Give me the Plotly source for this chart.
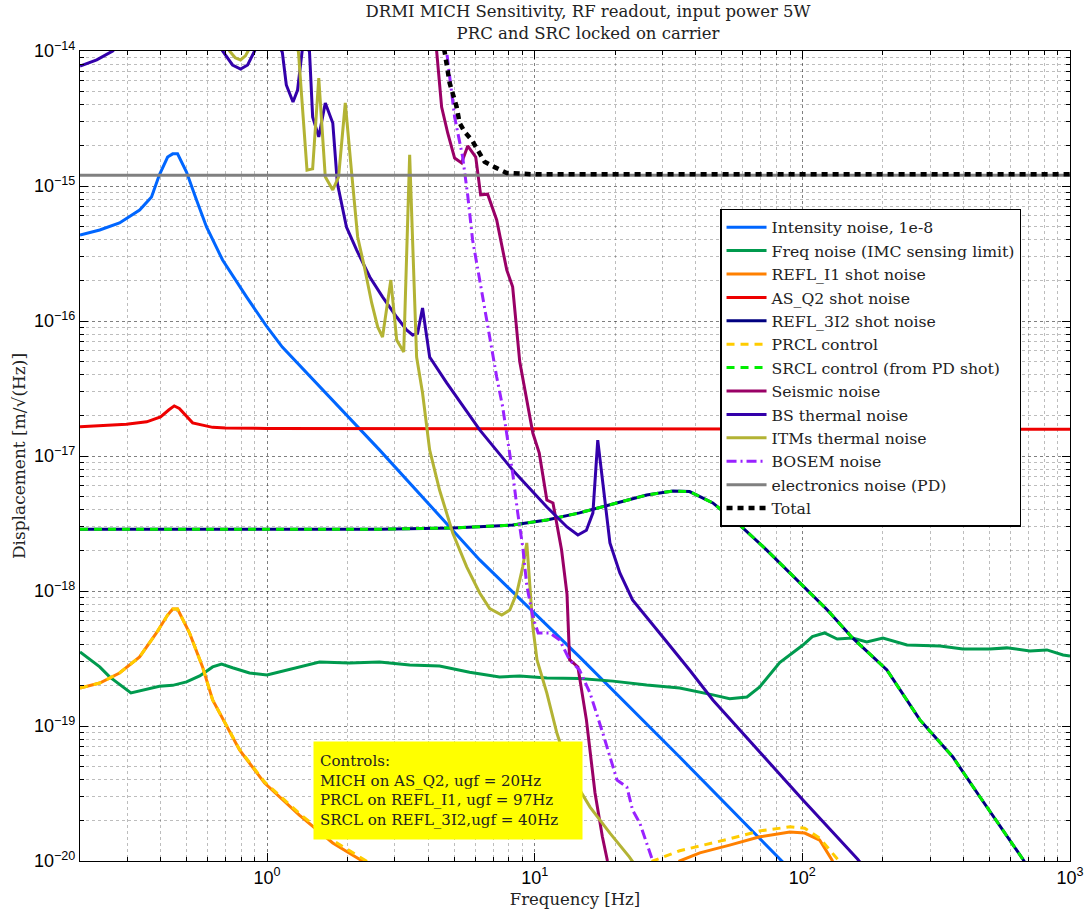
import plotly.graph_objects as go

# ---------------- data ----------------
f_intensity = [0.2, 0.237, 0.281, 0.334, 0.370, 0.396, 0.425, 0.444, 0.463, 0.50, 0.545, 0.594,
               0.682, 0.838, 1.0, 1.14, 2.63, 6.23, 14.7, 34.8, 83.8, 90]
intensity_noise = [4.33e-16, 4.72e-16, 5.32e-16, 6.64e-16, 8.3e-16, 1.21e-15, 1.64e-15, 1.73e-15, 1.73e-15,
                   1.27e-15, 7.88e-16, 4.97e-16, 2.83e-16, 1.51e-16, 9.03e-17, 6.41e-17, 1.11e-17, 1.7e-18,
                   3.25e-19, 5.89e-20, 1.0e-20, 8.6e-21]

f_freq = [0.2, 0.237, 0.258, 0.31, 0.396, 0.444, 0.50, 0.56, 0.626, 0.676, 0.743, 0.86, 1.0, 1.14, 1.32,
          1.57, 2.03, 2.63, 3.41, 4.41, 5.71, 6.23, 7.39, 8.79, 11.1, 14.7, 19.6, 26.2, 34.8, 46.3, 53.5,
          62.1, 69.3, 82.3, 92.1, 100.5, 109, 121, 135, 154, 174, 200, 246, 327, 398, 502, 581, 708, 820,
          942, 1000]
freq_noise = [3.54e-19, 2.74e-19, 2.31e-19, 1.76e-19, 1.97e-19, 2.0e-19, 2.12e-19, 2.35e-19, 2.74e-19,
              2.88e-19, 2.7e-19, 2.47e-19, 2.39e-19, 2.55e-19, 2.74e-19, 2.98e-19, 2.93e-19, 2.98e-19,
              2.83e-19, 2.78e-19, 2.5e-19, 2.43e-19, 2.31e-19, 2.35e-19, 2.27e-19, 2.25e-19, 2.15e-19,
              2.01e-19, 1.91e-19, 1.70e-19, 1.59e-19, 1.64e-19, 1.95e-19, 2.95e-19, 3.5e-19, 3.98e-19,
              4.6e-19, 4.89e-19, 4.41e-19, 4.49e-19, 4.2e-19, 4.49e-19, 3.98e-19, 3.92e-19, 3.72e-19,
              3.72e-19, 3.79e-19, 3.6e-19, 3.66e-19, 3.36e-19, 3.3e-19]

f_refl_i1 = [0.2, 0.237, 0.281, 0.334, 0.386, 0.425, 0.444, 0.463, 0.513, 0.574, 0.626, 0.789, 0.979,
             1.32, 1.76, 2.27, 2.4, 33.0, 34.8, 41.4, 53.5, 69.3, 89.8, 102, 116, 129, 135]
refl_i1_shot = [1.91e-19, 2.08e-19, 2.47e-19, 3.25e-19, 4.89e-19, 6.64e-19, 7.36e-19, 7.36e-19, 4.89e-19,
                2.74e-19, 1.56e-19, 6.64e-20, 3.78e-20, 2.19e-20, 1.36e-20, 1.0e-20, 8e-21, 8e-21, 1.0e-20,
                1.15e-20, 1.31e-20, 1.51e-20, 1.64e-20, 1.61e-20, 1.43e-20, 1.02e-20, 8e-21]

f_as_q2 = [0.2, 0.298, 0.355, 0.40, 0.43, 0.45, 0.47, 0.50, 0.527, 0.626, 0.7, 1.0, 10.0, 100.0, 1000.0]
as_q2_shot = [1.65e-17, 1.72e-17, 1.79e-17, 1.95e-17, 2.2e-17, 2.35e-17, 2.25e-17, 1.95e-17, 1.76e-17,
              1.63e-17, 1.61e-17, 1.6e-17, 1.6e-17, 1.6e-17, 1.58e-17]

f_refl_3i2 = [0.2, 1.0, 2.63, 4.94, 8.27, 11.1, 14.7, 19.6, 26.2, 32.8, 37.9, 46.3, 58.4, 73.6, 97.9,
              124, 154, 207, 275, 365, 461, 667, 720]
refl_3i2_shot = [2.87e-18, 2.87e-18, 2.87e-18, 2.93e-18, 3.08e-18, 3.36e-18, 3.79e-18, 4.41e-18, 5.14e-18,
                 5.5e-18, 5.45e-18, 4.49e-18, 3.08e-18, 2.01e-18, 1.15e-18, 7.23e-19, 4.49e-19, 2.6e-19,
                 1.11e-19, 5.89e-20, 2.98e-20, 1.03e-20, 8e-21]

f_prcl = [0.2, 0.237, 0.281, 0.334, 0.386, 0.425, 0.444, 0.463, 0.513, 0.574, 0.626, 0.789, 0.979,
          1.32, 1.76, 2.35, 2.5, 26.0, 27.6, 34.8, 53.5, 69.3, 89.8, 102, 116, 136, 142]
prcl_control = [1.91e-19, 2.08e-19, 2.47e-19, 3.25e-19, 4.89e-19, 6.64e-19, 7.36e-19, 7.36e-19, 4.89e-19,
                2.74e-19, 1.56e-19, 6.7e-20, 3.85e-20, 2.25e-20, 1.42e-20, 1.0e-20, 8e-21, 8e-21, 1.0e-20,
                1.19e-20, 1.46e-20, 1.67e-20, 1.79e-20, 1.75e-20, 1.48e-20, 1.02e-20, 8e-21]

f_srcl = f_refl_3i2
srcl_control = refl_3i2_shot

f_seismic = [4.25, 4.30, 4.49, 4.73, 5.02, 5.33, 5.62, 6.02, 6.28, 6.67, 7.21, 7.86, 8.27, 8.79, 9.34,
             9.84, 10.4, 11.1, 11.7, 12.6, 13.2, 13.5, 14.5, 15.6, 16.8, 17.9, 18.7, 19.2]
seismic_noise = [1.3e-14, 9.8e-15, 3.84e-15, 2.47e-15, 1.61e-15, 1.48e-15, 1.98e-15, 1.64e-15, 8.6e-16,
                 8.7e-16, 5.6e-16, 2.39e-16, 1.79e-16, 5.0e-17, 2.6e-17, 1.48e-17, 1.05e-17, 4.72e-18,
                 4.49e-18, 2.01e-18, 9.5e-19, 3.1e-19, 2.74e-19, 1.11e-19, 3.19e-20, 1.51e-20, 1.0e-20, 8e-21]

f_bs = [0.2, 0.231, 0.265, 0.3, 0.6, 0.682, 0.743, 0.796, 0.846, 0.898, 1.0, 1.14, 1.18, 1.25, 1.30,
        1.36, 1.44, 1.48, 1.56, 1.65, 1.76, 1.83, 1.98, 2.16, 2.42, 2.70, 3.05, 3.32, 3.50, 3.65, 3.81,
        4.05, 4.69, 6.23, 8.27, 11.1, 13.2, 14.5, 15.6, 16.5, 17.2, 17.96, 19.1, 20.8, 23.2, 30.1, 37.9,
        46.3, 58.4, 77.6, 100.5, 161, 170]
bs_thermal = [7.74e-15, 8.6e-15, 1.0e-14, 1.3e-14, 1.5e-14, 1.0e-14, 7.88e-15, 7.36e-15, 7.88e-15, 1.0e-14,
              1.6e-14, 9.8e-15, 5.6e-15, 4.19e-15, 5.14e-15, 1.1e-14, 1.0e-14, 3.25e-15, 2.31e-15, 4.12e-15,
              2.93e-15, 1.05e-15, 4.97e-16, 3.36e-16, 2.12e-16, 1.51e-16, 1.07e-16, 8.58e-17, 7.88e-17,
              8.1e-17, 1.25e-16, 5.41e-17, 3.48e-17, 1.56e-17, 7.88e-18, 4.19e-18, 2.98e-18, 2.6e-18,
              2.82e-18, 3.79e-18, 1.31e-17, 6.3e-18, 2.27e-18, 1.36e-18, 8.58e-19, 4.56e-19, 2.6e-19,
              1.56e-19, 9.34e-20, 4.97e-20, 2.83e-20, 1.03e-20, 9e-21]

f_itm = [0.70, 0.724, 0.76, 0.796, 0.83, 0.86, 0.95, 1.1, 1.29, 1.31, 1.41, 1.48, 1.56, 1.65, 1.76, 1.85,
         1.96, 2.07, 2.18, 2.31, 2.46, 2.59, 2.70, 2.90, 3.05, 3.24, 3.41, 3.62, 3.81, 4.05, 4.41, 4.94,
         5.57, 6.23, 6.79, 7.53, 8.07, 8.57, 9.02, 9.34, 9.84, 10.2, 11.1, 12.1, 13.5, 16.1, 19.1, 22.6, 24.0]
itm_thermal = [1.2e-14, 1.0e-14, 8.9e-15, 8.58e-15, 9.2e-15, 1.05e-14, 1.5e-14, 2.0e-14, 1.1e-14, 9.8e-15,
               1.31e-15, 1.34e-15, 6.3e-15, 1.17e-15, 9.34e-16, 1.17e-15, 4.12e-15, 1.25e-15, 4.19e-16,
               2.51e-16, 1.36e-16, 9.03e-17, 7.61e-17, 2.01e-16, 7.23e-17, 5.89e-17, 1.7e-15, 5.41e-17,
               2.93e-17, 1.11e-17, 5.6e-18, 2.69e-18, 1.51e-18, 9.66e-19, 7.4e-19, 6.64e-19, 7.23e-19,
               9.66e-19, 1.51e-18, 2.27e-18, 5.41e-19, 3.08e-19, 1.75e-19, 8.87e-20, 4.49e-20, 2.51e-20,
               1.61e-20, 1.07e-20, 9e-21]

f_bosem = [4.5, 4.69, 5.02, 5.38, 5.62, 5.86, 6.23, 6.62, 6.97, 7.21, 7.59, 7.93, 8.27, 8.64, 9.02, 9.34,
           9.84, 10.3, 11.4, 12.4, 13.5, 14.7, 16.1, 17.96, 20.3, 22.1, 23.2, 24.7, 26.2, 27.6, 28.5]
bosem_noise = [1.3e-14, 9.8e-15, 3.25e-15, 1.64e-15, 8.5e-16, 3.98e-16, 2.01e-16, 1.02e-16, 5.41e-17,
               3.85e-17, 2.31e-17, 1.31e-17, 7.49e-18, 3.79e-18, 2.12e-18, 1.1e-18, 6.41e-19, 4.89e-19,
               4.89e-19, 4.34e-19, 3.08e-19, 2.6e-19, 1.75e-19, 8.87e-20, 3.98e-20, 3.53e-20, 2.39e-20,
               1.91e-20, 1.36e-20, 1.0e-20, 8e-21]

f_electronics = [0.2, 1000.0]
electronics_noise = [1.2e-15, 1.2e-15]

f_total = [4.4, 4.61, 4.81, 5.11, 5.24, 5.48, 5.82, 6.12, 6.50, 7.08, 7.86, 10.0, 100.0, 1000.0]
total_noise = [1.5e-14, 9.8e-15, 5.8e-15, 3.84e-15, 2.93e-15, 2.51e-15, 2.19e-15, 1.85e-15, 1.51e-15,
               1.38e-15, 1.25e-15, 1.22e-15, 1.22e-15, 1.22e-15]

x_tick_vals = [1, 10, 100, 1000]
x_tick_text = ["10<sup>0</sup>", "10<sup>1</sup>", "10<sup>2</sup>", "10<sup>3</sup>"]
y_tick_vals = [1e-20, 1e-19, 1e-18, 1e-17, 1e-16, 1e-15, 1e-14]
y_tick_text = ["10<sup>−20</sup>", "10<sup>−19</sup>", "10<sup>−18</sup>", "10<sup>−17</sup>",
               "10<sup>−16</sup>", "10<sup>−15</sup>", "10<sup>−14</sup>"]

# ---------------- figure ----------------
series = [
    ("Intensity noise, 1e-8", f_intensity, intensity_noise, "#0066ff", "solid", 3),
    ("Freq noise (IMC sensing limit)", f_freq, freq_noise, "#009a4e", "solid", 3),
    ("REFL_I1 shot noise", f_refl_i1, refl_i1_shot, "#ff8000", "solid", 3),
    ("AS_Q2 shot noise", f_as_q2, as_q2_shot, "#ee0000", "solid", 3),
    ("REFL_3I2 shot noise", f_refl_3i2, refl_3i2_shot, "#000080", "solid", 3),
    ("PRCL control", f_prcl, prcl_control, "#ffcc00", "8px,6px", 3),
    ("SRCL control (from PD shot)", f_srcl, srcl_control, "#00ee00", "8px,6px", 3),
    ("Seismic noise", f_seismic, seismic_noise, "#990066", "solid", 3),
    ("BS thermal noise", f_bs, bs_thermal, "#3300aa", "solid", 3),
    ("ITMs thermal noise", f_itm, itm_thermal, "#b3b334", "solid", 3),
    ("BOSEM noise", f_bosem, bosem_noise, "#9922ff", "10px,4px,2px,4px", 3),
    ("electronics noise (PD)", f_electronics, electronics_noise, "#808080", "solid", 3),
    ("Total", f_total, total_noise, "#000000", "6px,5px", 4.5),
]

fig = go.Figure()
for i, (name, xs, ys, color, dash, w) in enumerate(series):
    fig.add_trace(go.Scatter(x=xs, y=ys, mode="lines", name=name,
                             line=dict(color=color, dash=dash, width=w)))

serif = "DejaVu Serif"
sans = "Liberation Sans"

minor_x = [m * 10 ** k for k in range(-1, 3) for m in range(2, 10)]
minor_y = [m * 10.0 ** k for k in range(-20, -14) for m in range(2, 10)]

axis_common = dict(
    type="log", showline=True, linecolor="black", linewidth=1, mirror="ticks",
    ticks="inside", ticklen=8, tickcolor="black", tickwidth=1,
    showgrid=True, gridcolor="rgba(0,0,0,0.5)", griddash="dot", gridwidth=1,
    tickmode="array", zeroline=False, automargin=False,
    tickfont=dict(family=sans, size=18, color="black"),
)

fig.update_xaxes(**axis_common, range=[-0.69897, 3.0], tickvals=x_tick_vals, ticktext=x_tick_text,
                 minor=dict(tickmode="array", tickvals=minor_x, ticks="inside", ticklen=4,
                            tickcolor="black", showgrid=True, gridcolor="rgba(0,0,0,0.26)", griddash="dot"),
                 title=dict(text="Frequency [Hz]", font=dict(family=serif, size=16.5, color="#222"), standoff=6))
fig.update_yaxes(**axis_common, range=[-20, -14], tickvals=y_tick_vals, ticktext=y_tick_text,
                 minor=dict(tickmode="array", tickvals=minor_y, ticks="inside", ticklen=4,
                            tickcolor="black", showgrid=True, gridcolor="rgba(0,0,0,0.26)", griddash="dot"),
                 title=dict(text="Displacement [m/√(Hz)]", font=dict(family=serif, size=17, color="#222"),
                            standoff=4))

fig.add_annotation(
    xref="paper", yref="paper", x=0.2354, y=0.148, xanchor="left", yanchor="top",
    text="Controls:<br>MICH on AS_Q2, ugf = 20Hz<br>PRCL on REFL_I1, ugf = 97Hz<br>SRCL on REFL_3I2,ugf = 40Hz",
    showarrow=False, align="left", bgcolor="#ffff00", borderpad=6, width=256, height=85,
    font=dict(family=serif, size=15, color="#222"),
)

fig.update_layout(
    width=1089, height=913,
    margin=dict(l=80, r=19, t=51, b=52),
    paper_bgcolor="white", plot_bgcolor="white",
    title=dict(text="DRMI MICH Sensitivity, RF readout, input power 5W<br>PRC and SRC locked on carrier",
               x=0.54, xanchor="center", y=0.981, yanchor="top", yref="container",
               font=dict(family=serif, size=16.5, color="#222")),
    legend=dict(x=0.6465, y=0.805, xanchor="left", yanchor="top", bgcolor="white",
                bordercolor="black", borderwidth=1.5, traceorder="normal",
                font=dict(family=serif, size=15.7, color="#222"), itemwidth=40),
    showlegend=True,
)

fig.write_html("out.html", config={"displayModeBar": False},
               post_script="document.body.style.margin='0';document.body.style.overflow='hidden';"
                           "window.dispatchEvent(new Event('resize'));")
